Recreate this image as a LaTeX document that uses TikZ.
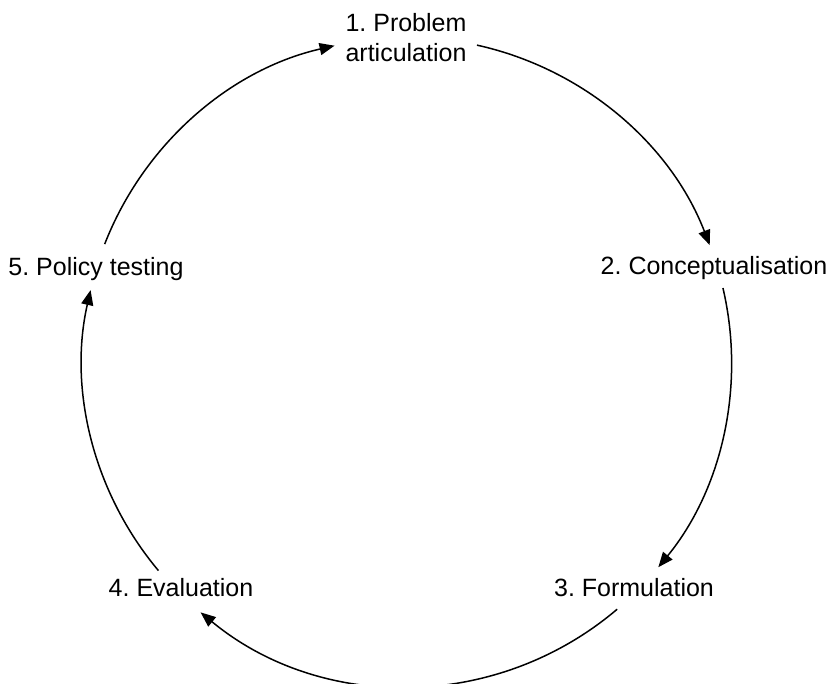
\documentclass[tikz,border=0pt]{standalone}
\usepackage{fontspec}
\setmainfont{Liberation Sans}
\usetikzlibrary{arrows.meta}
\frenchspacing
\begin{document}
\begin{tikzpicture}[x=1pt,y=1pt,
  lbl/.style={font=\fontsize{25}{30}\selectfont, inner sep=0pt, anchor=base, align=center},
  flow/.style={line width=1.5pt, -{Triangle[length=15pt,width=12pt]}}]
\useasboundingbox (0,0) rectangle (831,684);
\coordinate (c) at (407,322);
\node[lbl] (n1) at (406,622) {1. Problem\\articulation};
\node[lbl] (n2) at (714,409) {2. Conceptualisation};
\node[lbl] (n3) at (634,87) {3. Formulation};
\node[lbl] (n4) at (181,87) {4. Evaluation};
\node[lbl] (n5) at (96,408) {5. Policy testing};
\draw[flow] ([shift={(77.55:324.5pt)}]c) arc[start angle=77.55, end angle=21.11, radius=324.5pt];
\draw[flow] ([shift={(13.18:324.5pt)}]c) arc[start angle=13.18, end angle=-39.24, radius=324.5pt];
\draw[flow] ([shift={(-49.63:324.5pt)}]c) arc[start angle=-49.63, end angle=-129.5, radius=324.5pt];
\draw[flow] ([shift={(220:324.5pt)}]c) arc[start angle=220, end angle=167.2, radius=324.5pt];
\draw[flow] ([shift={(158.7:324.5pt)}]c) arc[start angle=158.7, end angle=102.9, radius=324.5pt];
\end{tikzpicture}
\end{document}
